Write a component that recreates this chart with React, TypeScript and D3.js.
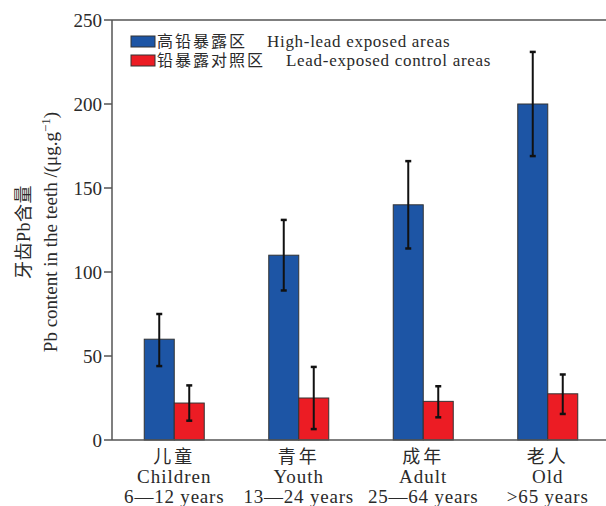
import React from 'react';
import * as d3 from 'd3';

// categories (two-line labels: Chinese, English, age range)
const groupsZh = ['儿童', '青年', '成年', '老人'];
const groupsEn = ['Children', 'Youth', 'Adult', 'Old'];
const groupsAge = ['6—12 years', '13—24 years', '25—64 years', '>65 years'];

const seriesKeys = ['high', 'control'];
const seriesZh = ['高铅暴露区', '铅暴露对照区'];
const seriesEn = ['High-lead exposed areas', 'Lead-exposed control areas'];
const seriesColors = ['#1d55a5', '#ec1c24'];

// mean values and error bar ends
const highMean = [60, 110, 140, 200];
const highLow = [44, 89, 114, 169];
const highHigh = [75, 131, 166, 231];
const controlMean = [22, 25, 23, 27.5];
const controlLow = [11.5, 6.5, 13.5, 15.5];
const controlHigh = [32.5, 43.5, 32, 39];

const yTicks = [0, 50, 100, 150, 200, 250];

const W = 606;
const H = 506;
const margin = { top: 20, right: 0, bottom: 66, left: 112 };

const serif = "'Liberation Serif', 'Noto Sans CJK SC', serif";
const axisColor = '#555';
const textColor = '#2a2a2a';

export default function App() {
  const x = d3.scaleBand<number>()
    .domain(d3.range(groupsZh.length))
    .range([margin.left, 610])
    .padding(0);
  const inner = d3.scaleBand<string>()
    .domain(seriesKeys)
    .range([-30, 30])
    .padding(0);
  const y = d3.scaleLinear()
    .domain([0, 250])
    .range([H - margin.bottom, margin.top]);

  const means = [highMean, controlMean];
  const lows = [highLow, controlLow];
  const highs = [highHigh, controlHigh];
  const y0 = y(0);
  const capW = 3;

  return (
    <svg width={W} height={H} style={{ position: 'absolute', left: 0, top: 0, background: '#fff', fontFamily: serif }}>
      {/* bars */}
      {seriesKeys.map((key, s) => (
        <g key={key}>
          {means[s].map((v, i) => {
            const cx = x(i)! + x.bandwidth() / 2;
            const bx = cx + inner(key)!;
            return (
              <rect key={i} x={bx} y={y(v)} width={inner.bandwidth()} height={y0 - y(v)}
                fill={seriesColors[s]} stroke="#333" strokeWidth={1} />
            );
          })}
        </g>
      ))}
      {/* error bars */}
      {seriesKeys.map((key, s) => (
        <g key={key + '-err'} stroke="#111" strokeWidth={2}>
          {means[s].map((v, i) => {
            const ex = x(i)! + x.bandwidth() / 2 + inner(key)! + inner.bandwidth() / 2;
            return (
              <g key={i}>
                <line x1={ex} x2={ex} y1={y(lows[s][i])} y2={y(highs[s][i])} />
                <line x1={ex - capW} x2={ex + capW} y1={y(lows[s][i])} y2={y(lows[s][i])} strokeWidth={2.5} />
                <line x1={ex - capW} x2={ex + capW} y1={y(highs[s][i])} y2={y(highs[s][i])} strokeWidth={2.5} />
              </g>
            );
          })}
        </g>
      ))}
      {/* frame: left axis, top line, bottom axis */}
      <g stroke={axisColor} strokeWidth={1.5} fill="none">
        <line x1={margin.left} x2={margin.left} y1={margin.top} y2={y0} />
        <line x1={margin.left} x2={W} y1={margin.top} y2={margin.top} />
        <line x1={margin.left} x2={W} y1={y0} y2={y0} />
      </g>
      {/* y ticks */}
      {yTicks.map(t => (
        <g key={t}>
          <line x1={margin.left - 8} x2={margin.left} y1={y(t)} y2={y(t)} stroke={axisColor} strokeWidth={1.5} />
          <text x={margin.left - 10} y={y(t)} dy="0.35em" textAnchor="end" fontSize={19} fill={textColor}>{t}</text>
        </g>
      ))}
      {/* y label */}
      <g transform={`translate(30, 232) rotate(-90)`} fill={textColor}>
        <text x={0} y={0} textAnchor="middle" fontSize={18} letterSpacing={0.5}>牙齿Pb含量</text>
        <text x={0} y={20} dy="0.35em" textAnchor="middle" fontSize={19}>
          Pb content in the teeth /(μg.g<tspan dy="-7" fontSize={13}>−1</tspan><tspan dy="7">)</tspan>
        </text>
      </g>
      {/* x labels */}
      {groupsZh.map((g, i) => {
        const cx = x(i)! + x.bandwidth() / 2;
        return (
          <g key={g} fill={textColor} textAnchor="middle">
            <text x={cx} y={463} fontSize={18} letterSpacing={3}>{g}</text>
            <text x={cx} y={483} fontSize={19} letterSpacing={1}>{groupsEn[i]}</text>
            <text x={cx} y={503} fontSize={19} letterSpacing={0.8}>{groupsAge[i]}</text>
          </g>
        );
      })}
      {/* legend */}
      {seriesKeys.map((key, s) => (
        <g key={key + '-leg'} transform={`translate(131, ${36 + s * 19})`} fill={textColor}>
          <rect x={0} y={0} width={24} height={11} fill={seriesColors[s]} stroke="#333" strokeWidth={1} />
          <text x={26} y={11} fontSize={16} letterSpacing={2}>{seriesZh[s]}</text>
          <text x={s === 0 ? 136 : 155} y={11} fontSize={17} letterSpacing={0.7}>{seriesEn[s]}</text>
        </g>
      ))}
    </svg>
  );
}
